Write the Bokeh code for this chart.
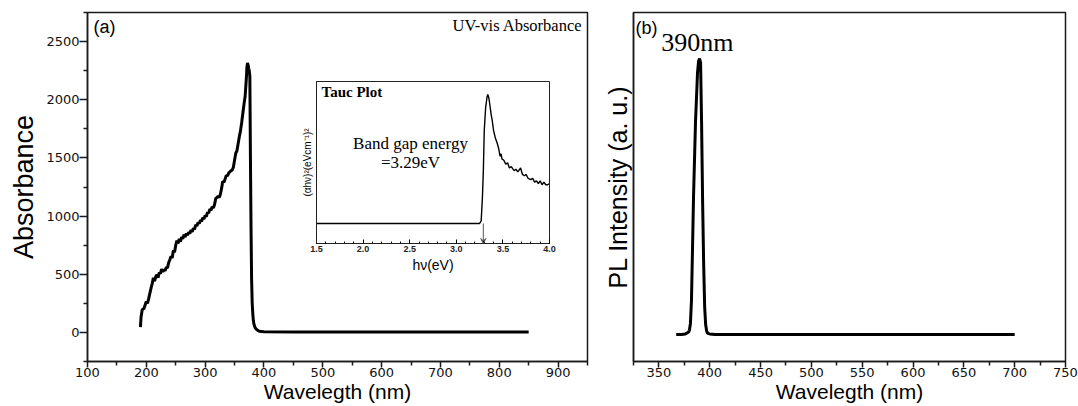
from bokeh.plotting import figure
from bokeh.layouts import row, column
from bokeh.models import Label, Arrow, VeeHead, FixedTicker, PrintfTickFormatter
from bokeh.embed import file_html
from bokeh.resources import INLINE

# ---------------- data ----------------
# UV-vis absorbance spectrum
abs_wavelength = [
    190, 191, 193, 196, 198, 200, 202, 204, 206, 208,
    210, 212, 214, 216, 218, 220, 222, 224, 226, 228,
    230, 232, 234, 236, 238, 240, 242, 244, 246, 248,
    250, 252, 254, 256, 258, 260, 262, 264, 266, 268,
    270, 272, 274, 276, 278, 280, 282, 284, 286, 288,
    290, 292, 294, 296, 298, 300, 302, 304, 306, 308,
    310, 312, 314, 316, 318, 320, 322, 324, 326, 328,
    330, 332, 334, 336, 338, 340, 342, 344, 346, 348,
    350, 352, 354, 356, 358, 360, 362, 364, 366, 368,
    370, 371, 372, 373, 374, 375, 376, 377, 378, 379,
    380, 381, 382, 383, 385, 388, 391, 395, 400, 450,
    500, 600, 700, 800, 850,
]
abs_value = [
    45, 130, 195, 205, 235, 265, 250, 290, 335, 380,
    420, 470, 440, 480, 495, 470, 515, 505, 545, 520,
    540, 530, 560, 555, 600, 625, 655, 640, 705, 690,
    750, 790, 765, 805, 780, 820, 805, 840, 820, 850,
    835, 860, 850, 880, 865, 895, 885, 925, 915, 945,
    935, 965, 955, 985, 975, 1005, 995, 1035, 1025, 1060,
    1050, 1080, 1070, 1100, 1150, 1160, 1170, 1160, 1190, 1240,
    1300, 1290, 1320, 1350, 1345, 1370, 1380, 1390, 1395, 1420,
    1480, 1540, 1560, 1620, 1680, 1730, 1800, 1880, 1960, 2030,
    2180, 2280, 2316, 2300, 2270, 2250, 2200, 1500, 900, 450,
    250, 160, 100, 70, 40, 22, 12, 7, 5, 4,
    4, 4, 3, 3, 3,
]
abs_xticks = [100, 200, 300, 400, 500, 600, 700, 800, 900]
abs_yticks = [0, 500, 1000, 1500, 2000, 2500]

# Tauc plot (inset)
tauc_energy = [
    1.5, 3.25, 3.267, 3.28, 3.29, 3.30, 3.315, 3.33, 3.338, 3.35,
    3.36, 3.375, 3.385, 3.40, 3.42, 3.44, 3.455, 3.47, 3.48, 3.49,
    3.51, 3.53, 3.55, 3.57, 3.59, 3.62, 3.64, 3.66, 3.69, 3.71,
    3.73, 3.75, 3.77, 3.80, 3.82, 3.84, 3.86, 3.88, 3.90, 3.92,
    3.94, 3.96, 3.98, 4.0,
]
tauc_value = [
    0, 0, 2, 20, 40, 72, 90, 98, 100, 97,
    92, 84, 80, 72, 66, 62, 58, 52, 54, 50,
    49, 46, 47, 43, 44, 41, 42, 40, 43, 38,
    37, 38, 35, 34, 35, 32, 33, 31, 33, 30,
    32, 30, 30, 31,
]
tauc_xticks = [1.5, 2.0, 2.5, 3.0, 3.5, 4.0]
band_gap_ev = 3.29

# Photoluminescence spectrum
pl_wavelength = [
    367, 372, 376, 379, 380, 381, 382, 383, 384, 386,
    388, 389, 390, 391, 392, 393, 394, 395, 396, 397,
    398, 400, 405, 450, 550, 700,
]
pl_intensity = [
    0, 0, 2, 8, 15, 40, 120, 300, 490, 770,
    950, 990, 1000, 985, 760, 480, 260, 100, 35, 12,
    4, 2, 0, 0, 0, 0,
]
pl_peak_nm = 390
pl_xticks = [350, 400, 450, 500, 550, 600, 650, 700, 750]

SANS = "Liberation Sans"
SERIF = "Liberation Serif"
TICK_FONT = "DejaVu Sans"
PAGE_H = 406
INSET_LEFT, INSET_TOP, INSET_W, INSET_H = 290, 70, 267, 208


def to_data(px, p_lo, p_hi, v_lo, v_hi):
    """Convert a page pixel position to data units along one axis of a frame."""
    return v_lo + (px - p_lo) * (v_hi - v_lo) / (p_hi - p_lo)


def midpoints(ticks):
    return [(a + b) / 2 for a, b in zip(ticks[:-1], ticks[1:])]


def style_axis(ax, ticks, minor):
    ax.ticker = FixedTicker(ticks=ticks, minor_ticks=minor)
    ax.major_tick_out = 6
    ax.major_tick_in = 0
    ax.minor_tick_out = 4
    ax.minor_tick_in = 0
    ax.axis_line_width = 1.5
    ax.axis_line_color = "#1a1a1a"
    ax.major_tick_line_width = 1.5
    ax.minor_tick_line_width = 1.5
    ax.major_tick_line_color = "#1a1a1a"
    ax.minor_tick_line_color = "#1a1a1a"
    ax.major_label_text_font = TICK_FONT
    ax.major_label_text_font_size = "13px"
    ax.major_label_text_color = "#111111"
    ax.major_label_standoff = 0


def style_title(ax, text, size, standoff=0):
    ax.axis_label = text
    ax.axis_label_text_font = SANS
    ax.axis_label_text_font_size = size
    ax.axis_label_text_font_style = "normal"
    ax.axis_label_text_color = "black"
    ax.axis_label_standoff = standoff


def bare_axis(ax):
    """Axis line only: no ticks and no tick labels."""
    ax.ticker = FixedTicker(ticks=[])
    ax.major_tick_out = 0
    ax.minor_tick_out = 0
    ax.major_tick_in = 0
    ax.minor_tick_in = 0


def add_label(p, text, x, y, size, font=SANS, align="left", baseline="middle",
              style="normal"):
    p.add_layout(Label(x=x, y=y, text=text, text_font=font,
                       text_font_size=size, text_align=align,
                       text_baseline=baseline, text_font_style=style,
                       text_color="black"))


# ---------------- (a) UV-vis absorbance ----------------
AX0, AX1, AY0, AY1 = 100, 950, -250, 2750
p1 = figure(width=600, height=PAGE_H, x_range=(AX0, AX1), y_range=(AY0, AY1),
            output_backend="svg", toolbar_location=None, title=None,
            min_border_left=87, min_border_right=13,
            min_border_top=12, min_border_bottom=45)
p1.grid.visible = False
p1.outline_line_color = "#1a1a1a"
p1.outline_line_width = 1.5
style_axis(p1.xaxis[0], abs_xticks, midpoints(abs_xticks + [1000]))
style_axis(p1.yaxis[0], abs_yticks, [-250] + midpoints(abs_yticks + [3000]))
p1.yaxis[0].major_tick_out = 8
style_title(p1.xaxis[0], "Wavelegth (nm)", "21px")
style_title(p1.yaxis[0], "Absorbance", "27px", standoff=4)
p1.line(abs_wavelength, abs_value, line_color="black", line_width=3)


def lx(px):
    return to_data(px, 87, 587, AX0, AX1)


def ly(py):
    return to_data(py, 361, 12, AY0, AY1)


add_label(p1, "(a)", lx(93), ly(26), "18px")
add_label(p1, "UV-vis Absorbance", lx(582), ly(25), "16.5px", font=SERIF, align="right")

# ---------------- (b) photoluminescence ----------------
RX0, RX1, RY0, RY1 = 325, 750, -98, 1167
p2 = figure(width=478, height=PAGE_H, x_range=(RX0, RX1), y_range=(RY0, RY1),
            output_backend="svg", toolbar_location=None, title=None,
            min_border_left=31, min_border_right=13,
            min_border_top=12, min_border_bottom=45)
p2.grid.visible = False
p2.outline_line_color = "#1a1a1a"
p2.outline_line_width = 1.5
style_axis(p2.xaxis[0], pl_xticks, [325] + midpoints(pl_xticks))
style_title(p2.xaxis[0], "Wavelegth (nm)", "21px")
bare_axis(p2.yaxis[0])
p2.yaxis[0].axis_line_width = 1.5
p2.yaxis[0].axis_line_color = "#1a1a1a"
style_title(p2.yaxis[0], "PL Intensity (a. u.)", "25px", standoff=2)
p2.line(pl_wavelength, pl_intensity, line_color="black", line_width=3)


def rx(px):
    return to_data(px, 631, 1065, RX0, RX1)


def ry(py):
    return to_data(py, 361, 12, RY0, RY1)


add_label(p2, "(b)", rx(633), ry(27), "18px")
add_label(p2, f"{pl_peak_nm}nm", rx(659), ry(42), "26px", font=SERIF)

# ---------------- inset: Tauc plot ----------------
IX0, IX1, IY0, IY1 = 1.5, 4.0, -15.5, 110
inset = figure(width=INSET_W, height=INSET_H, x_range=(IX0, IX1), y_range=(IY0, IY1),
               output_backend="svg", toolbar_location=None, title=None,
               min_border_left=26, min_border_right=8,
               min_border_top=11, min_border_bottom=35)
inset.grid.visible = False
inset.border_fill_alpha = 0
inset.outline_line_color = "#222222"
inset.outline_line_width = 1
ixa = inset.xaxis[0]
ixa.ticker = FixedTicker(ticks=tauc_xticks,
                         minor_ticks=[round(1.5 + 0.1 * i, 1) for i in range(26)])
ixa.formatter = PrintfTickFormatter(format="%.1f")
ixa.major_tick_in = 4
ixa.major_tick_out = 0
ixa.minor_tick_in = 2
ixa.minor_tick_out = 0
ixa.axis_line_color = "#222222"
ixa.major_label_text_font = SANS
ixa.major_label_text_font_style = "bold"
ixa.major_label_text_font_size = "9px"
ixa.major_label_text_color = "#222222"
ixa.major_label_standoff = 2
style_title(ixa, "hν(eV)", "14px", standoff=2)
iya = inset.yaxis[0]
bare_axis(iya)
iya.axis_line_color = "#222222"
style_title(iya, "(αhν)²(eVcm⁻¹)²", "10px", standoff=4)
inset.line(tauc_energy, tauc_value, line_color="black", line_width=1.4)
inset.add_layout(Arrow(x_start=band_gap_ev, y_start=0, x_end=band_gap_ev, y_end=IY0,
                       line_color="#555555", line_width=1,
                       end=VeeHead(size=5, line_color="#555555", line_width=1)))


def ix(px):
    return to_data(px, 316, 549, IX0, IX1)


def iy(py):
    return to_data(py, 243, 81, IY0, IY1)


add_label(inset, "Tauc Plot", ix(321), iy(91), "15px", font=SERIF, style="bold")
add_label(inset, "Band gap energy", ix(410), iy(143), "17px", font=SERIF, align="center")
add_label(inset, f"={band_gap_ev}eV", ix(410), iy(162), "17px", font=SERIF, align="center")

# The inset is pulled up (negative top margin) so it sits over panel (a).
inset.margin = (INSET_TOP - PAGE_H, 0, 0, INSET_LEFT)
layout = column(row(p1, p2), inset)
open("out.html", "w").write(file_html(layout, INLINE))
